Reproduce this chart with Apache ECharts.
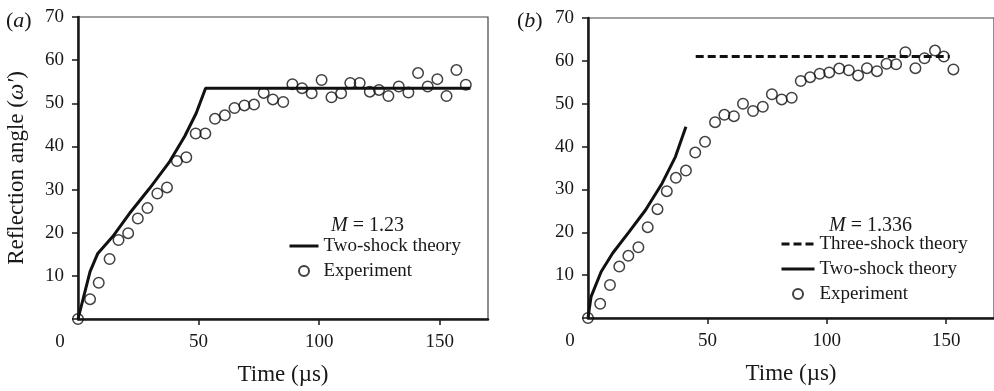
<!DOCTYPE html>
<html>
<head>
<meta charset="utf-8">
<script src="https://cdn.jsdelivr.net/npm/echarts@6/dist/echarts.min.js"></script>
<style>
html,body{margin:0;padding:0;background:#fff}
#chart{width:994px;height:391px}
</style>
</head>
<body>
<div id="chart"></div>
<script>
// panel (a), M = 1.23
const expTimeA  = [0,5,8.6,13.1,16.8,20.8,24.8,28.8,32.9,36.9,41,44.9,48.8,52.8,56.8,60.9,64.9,69,73,77,80.8,85.1,88.9,92.9,96.9,101,105.1,109.1,112.9,116.8,121,124.8,128.7,133,137,141,145,149,152.8,156.9,160.8];
const expAngleA = [0,4.6,8.4,13.9,18.3,19.9,23.3,25.7,29.1,30.5,36.6,37.5,43,43,46.4,47.2,48.9,49.5,49.7,52.4,50.9,50.3,54.4,53.5,52.3,55.4,51.4,52.3,54.7,54.7,52.7,53.1,51.7,53.9,52.5,57,53.9,55.6,51.7,57.7,54.3];
const twoTimeA  = [0,5,8.2,14.4,21.4,29.7,38,44.2,49,52.9,162.7];
const twoAngleA = [0,11,15.2,19.1,24.5,30.3,36.5,42.3,47.7,53.5,53.5];

// panel (b), M = 1.336
const expTimeB  = [0,5.1,9.2,13.1,16.9,21.1,25,29.1,33,36.8,41,44.9,49,53.2,57.1,61.1,64.9,69.1,73.2,77,81.1,85.3,89.1,93,97,101,105.2,109.2,113.1,116.8,121,125,129,132.9,137.1,140.9,145.3,149,153];
const expAngleB = [0,3.3,7.7,12,14.5,16.5,21.2,25.4,29.6,32.7,34.4,38.6,41.1,45.7,47.4,47.1,50,48.3,49.3,52.2,51,51.4,55.3,56.2,57,57.3,58.2,57.8,56.6,58.3,57.6,59.3,59.2,62,58.3,60.6,62.4,61,58];
const twoTimeB  = [0,1.3,5.5,10.3,17.2,24.1,31,36.6,41];
const twoAngleB = [0,5,10.8,15.1,20.1,25.2,31.4,37.6,44.6];
const threeTimeB  = [45.1,151.4];
const threeAngleB = [61,61];

const xTicks = [0,50,100,150];

const font = 'Liberation Serif';
const ink = '#1a1718';

function pairs(xs, ys) {
  return xs.map((x, i) => [x, ys[i]]);
}

function makeX(gridIndex) {
  return {
    type: 'value', gridIndex: gridIndex, min: 0, max: 170,
    name: 'Time (\u00b5s)', nameLocation: 'middle', nameGap: 44,
    nameTextStyle: {fontFamily: font, fontSize: 23, color: ink},
    splitLine: {show: false},
    axisLine: {lineStyle: {color: ink, width: 2.5}},
    axisTick: {inside: false, length: 6, lineStyle: {color: ink, width: 1.5}, customValues: [50,100,150]},
    axisLabel: {
      customValues: xTicks, margin: 14,
      fontFamily: font, fontSize: 19, color: ink,
      formatter: v => v === 0 ? '{z|0}' : String(v),
      rich: {z: {fontFamily: font, fontSize: 19, color: ink, padding: [0, 36, 0, 0]}}
    }
  };
}

function makeY(gridIndex, name) {
  return {
    type: 'value', gridIndex: gridIndex, min: 0, max: 70, interval: 10,
    name: name, nameLocation: 'middle', nameGap: 50,
    nameTextStyle: {fontFamily: font, fontSize: 23, color: ink,
      rich: {i: {fontFamily: font, fontSize: 23, fontStyle: 'italic', color: ink}}},
    splitLine: {show: false},
    axisLine: {lineStyle: {color: ink, width: 2.5}},
    axisTick: {inside: false, length: 6, lineStyle: {color: ink, width: 1.5}},
    axisLabel: {margin: 14, fontFamily: font, fontSize: 19, color: ink,
      formatter: v => v === 0 ? '' : String(v)}
  };
}

const lineStyleBase = {color: '#111', width: 3};
const circleStyle = {color: 'rgba(0,0,0,0)', borderColor: '#111', borderWidth: 1.5};

function expSeries(name, xIdx, data) {
  return {name: name, type: 'scatter', xAxisIndex: xIdx, yAxisIndex: xIdx,
    symbol: 'circle', symbolSize: 10.5, itemStyle: circleStyle, data: data, z: 3};
}
function lineSeries(name, xIdx, data, type) {
  return {name: name, type: 'line', xAxisIndex: xIdx, yAxisIndex: xIdx,
    symbol: 'none', showSymbol: false, itemStyle: {color: '#111'},
    lineStyle: Object.assign({}, lineStyleBase, {type: type || 'solid'}), data: data, z: 2};
}

const legendText = {fontFamily: font, fontSize: 19, color: ink, lineHeight: 20};
const noDot = {color: 'rgba(0,0,0,0)', borderWidth: 0, opacity: 0};
const solidIcon = {width: 3, color: '#111', type: 'solid'};
const dashIcon = {width: 3, color: '#111', type: [8, 4]};

const myChart = echarts.init(document.getElementById('chart'));
const option = {
  animation: false,
  backgroundColor: '#fff',
  title: [
    {text: '({i|a})', left: 1, top: 5, textStyle: {fontFamily: font, fontSize: 22, fontWeight: 'normal', color: ink,
      rich: {i: {fontFamily: font, fontSize: 22, fontStyle: 'italic', color: ink}}}},
    {text: '({i|b})', left: 512, top: 5, textStyle: {fontFamily: font, fontSize: 22, fontWeight: 'normal', color: ink,
      rich: {i: {fontFamily: font, fontSize: 22, fontStyle: 'italic', color: ink}}}},
    {text: '{i|M} = 1.23', left: 326, top: 211, textStyle: {fontFamily: font, fontSize: 20, fontWeight: 'normal', color: ink,
      rich: {i: {fontFamily: font, fontSize: 20, fontStyle: 'italic', color: ink}}}},
    {text: '{i|M} = 1.336', left: 824, top: 211, textStyle: {fontFamily: font, fontSize: 20, fontWeight: 'normal', color: ink,
      rich: {i: {fontFamily: font, fontSize: 20, fontStyle: 'italic', color: ink}}}}
  ],
  legend: [
    {left: 283, top: 231, orient: 'vertical', itemWidth: 29, itemHeight: 10, itemGap: 5,
      selectedMode: false, textStyle: Object.assign({}, legendText, {padding: [0, 0, 0, 0]}),
      data: [{name: 'Two-shock theory', itemStyle: noDot, lineStyle: solidIcon}, 'Experiment']},
    {left: 775, top: 229, orient: 'vertical', itemWidth: 33, itemHeight: 10, itemGap: 5,
      selectedMode: false, textStyle: Object.assign({}, legendText, {padding: [0, 0, 0, 0]}),
      data: [
        {name: 'Three-shock theory', itemStyle: noDot, lineStyle: dashIcon},
        {name: 'Two-shock theory', itemStyle: noDot, lineStyle: solidIcon},
        'Experiment'
      ]}
  ],
  grid: [
    {left: 78, top: 17, width: 410, height: 302, show: true, borderColor: '#444', borderWidth: 1.2, backgroundColor: 'transparent'},
    {left: 588, top: 18, width: 410, height: 300, show: true, borderColor: '#444', borderWidth: 1.2, backgroundColor: 'transparent'}
  ],
  xAxis: [makeX(0), makeX(1)],
  yAxis: [makeY(0, 'Reflection angle ({i|\u03c9\u2032})'), makeY(1, '')],
  series: [
    lineSeries('Two-shock theory', 0, pairs(twoTimeA, twoAngleA)),
    expSeries('Experiment', 0, pairs(expTimeA, expAngleA)),
    lineSeries('Three-shock theory', 1, pairs(threeTimeB, threeAngleB), [8, 4]),
    lineSeries('Two-shock theory', 1, pairs(twoTimeB, twoAngleB)),
    expSeries('Experiment', 1, pairs(expTimeB, expAngleB))
  ]
};
myChart.setOption(option);
</script>
</body>
</html>
